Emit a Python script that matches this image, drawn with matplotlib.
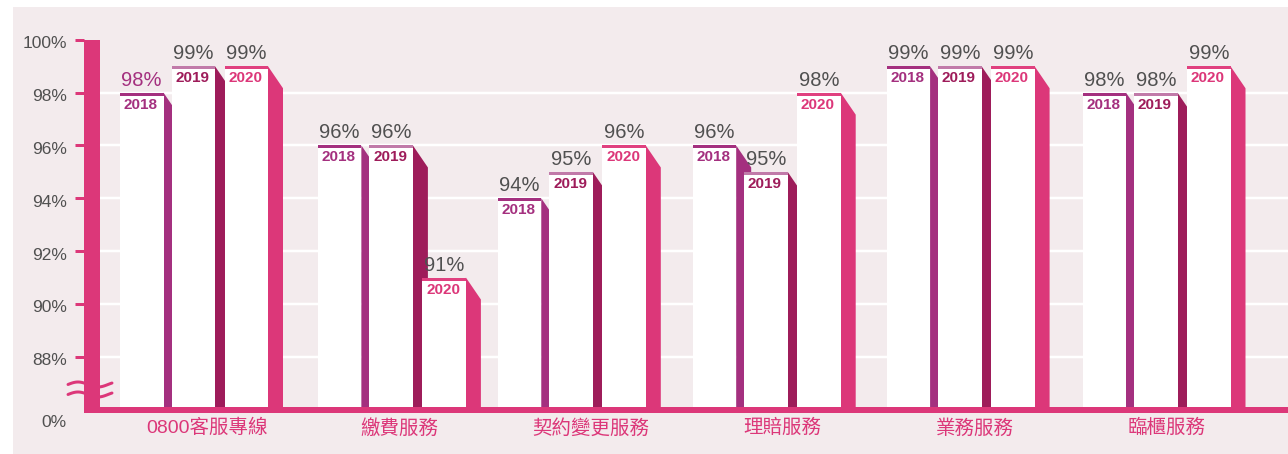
import matplotlib
matplotlib.use("Agg")
import matplotlib.pyplot as plt
from matplotlib.patches import Rectangle, Polygon
from matplotlib.transforms import ScaledTranslation
import numpy as np

# ---------------- data ----------------
categories = ["0800客服專線", "繳費服務", "契約變更服務", "理賠服務", "業務服務", "臨櫃服務"]
years = ["2018", "2019", "2020"]
values_2018 = [98, 96, 94, 96, 99, 98]
values_2019 = [99, 96, 95, 95, 99, 98]
values_2020 = [99, 91, 96, 98, 99, 99]
ytick_values = [88, 90, 92, 94, 96, 98, 100]
ytick_labels = ["88%", "90%", "92%", "94%", "96%", "98%", "100%"]
break_label = "0%"

series = [values_2018, values_2019, values_2020]

# ---------------- style ----------------
plt.rcParams['font.family'] = ['Liberation Sans', 'Noto Sans CJK TC', 'DejaVu Sans']
BG = "#f3ebed"
PINK = "#dc3779"
GRAY = "#505050"
side_colors = ["#a4307f", "#9e1c5a", "#dc3779"]
cap_colors = ["#a4307f", "#c17aa9", "#e0407f"]
year_colors = ["#a4307f", "#9e1c5a", "#dc3779"]
value_colors = [[GRAY] * 6 for _ in years]
value_colors[0][0] = "#a4307f"

W, H = 1288, 454
DPI = 100
PT = 72.0 / DPI  # points per pixel

# layout (pixels)
PPP = 26.41          # pixels per percent
Y94 = 198.3          # pixel row of 94%
Y_MIN, Y_MAX = 85.98, 100.0
def py(v):
    return Y94 - PPP * (v - 94)

AX_L, AX_R = 84, W
GROUP_PX = 191.9
C0 = 207
offsets_px = [-87, -35.5, 17.5]
group_shift_px = [0, 6, -6, -3, -1, 3]
FACE_W = 43.5
SIDE_W = 15
DROP = 22
CAP = 3

fig = plt.figure(figsize=(W / DPI, H / DPI), dpi=DPI)
fig.patch.set_facecolor("white")

# background panel
bg_ax = fig.add_axes([0, 0, 1, 1], zorder=0)
bg_ax.set_xlim(0, W); bg_ax.set_ylim(H, 0); bg_ax.axis("off")
bg_ax.add_patch(Rectangle((13, 7), W - 13, H - 7, color=BG, lw=0))

# main axes
ax = fig.add_axes([AX_L / W, (H - py(Y_MIN)) / H, (AX_R - AX_L) / W,
                   (py(Y_MIN) - py(Y_MAX)) / H], zorder=1)
ax.patch.set_alpha(0)
ax.set_xlim((AX_L - C0) / GROUP_PX, (AX_R - C0) / GROUP_PX)
ax.set_ylim(Y_MIN, Y_MAX)
for s in ax.spines.values():
    s.set_visible(False)

ax.set_yticks(ytick_values, ytick_labels)
ax.tick_params(axis="y", length=9 * PT, width=3 * PT, color=PINK, pad=8 * PT,
               labelsize=12.5, labelcolor=GRAY)
for lab in ax.get_yticklabels():
    lab.set_transform(lab.get_transform() + ScaledTranslation(0, -2.5 / DPI, fig.dpi_scale_trans))

ax.set_xticks(range(len(categories)), categories)
ax.tick_params(axis="x", length=0, pad=9 * PT, labelsize=14, labelcolor=PINK)

ax_w_px = AX_R - AX_L
for t in ytick_values[:-1]:
    ax.axhline(t, xmin=16 / ax_w_px, xmax=1, color="white", lw=2.5 * PT, zorder=0.5)

u = 1.0 / GROUP_PX
d = 1.0 / PPP
for i in range(len(categories)):
    for j, vals in enumerate(series):
        v = vals[i]
        x0 = i + (offsets_px[j] + group_shift_px[i]) * u
        x1 = x0 + FACE_W * u
        ax.add_patch(Polygon([(x1, v), (x1 + SIDE_W * u, v - DROP * d),
                              (x1 + SIDE_W * u, Y_MIN), (x1, Y_MIN)],
                             closed=True, fc=side_colors[j], ec="none", zorder=2))
        ax.add_patch(Rectangle((x0, Y_MIN), x1 - x0, v - Y_MIN, fc="white", ec="none", zorder=2))
        ax.add_patch(Rectangle((x0, v - CAP * d), x1 - x0, CAP * d, fc=cap_colors[j], ec="none", zorder=2))
        xc = (x0 + x1) / 2
        ax.annotate(f"{v}%", xy=(xc, v), xytext=(0, 7), textcoords="offset pixels",
                    ha="center", va="baseline", fontsize=14.5, color=value_colors[j][i], zorder=5)
        ax.annotate(years[j], xy=(xc, v), xytext=(-1, -12), textcoords="offset pixels",
                    ha="center", va="center", fontsize=11, fontweight="bold",
                    color=year_colors[j], zorder=5)

# decorations overlay (axis bars, break)
ov = fig.add_axes([0, 0, 1, 1], zorder=3)
ov.patch.set_alpha(0)
ov.set_xlim(0, W); ov.set_ylim(H, 0); ov.axis("off")
base = py(Y_MIN)
ov.add_patch(Rectangle((AX_L, py(Y_MAX)), 16, base + 3 - py(Y_MAX), color=PINK, lw=0))
ov.add_patch(Rectangle((93, base - 3), W - 93, 6, color=PINK, lw=0))
xs = np.linspace(68, 112, 80)
for yc in (384.5, 394.5):
    ov.plot(xs, yc - 2.5 * np.sin(2 * np.pi * (xs - 68) / 40), color=PINK, lw=3 * PT,
            solid_capstyle="round")
ov.text(67, base + 12, break_label, ha="right", va="center", fontsize=12.5, color=GRAY)

fig.savefig("out.png", dpi=DPI)
